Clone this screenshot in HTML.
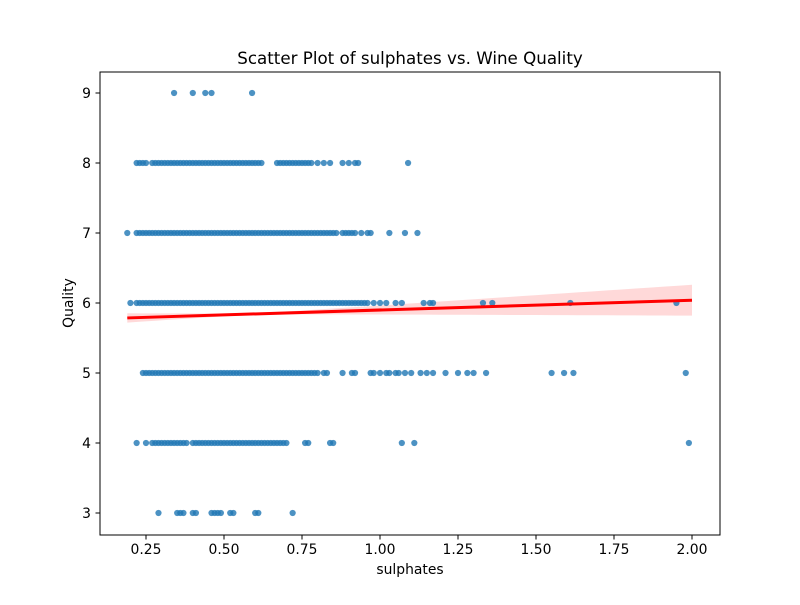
<!DOCTYPE html>
<html><head><meta charset="utf-8"><style>
body{margin:0;background:#fff}
svg text{font-family:"DejaVu Sans","Liberation Sans",sans-serif;fill:#000}
</style></head><body>
<svg id="chart" width="800" height="600" xmlns="http://www.w3.org/2000/svg">
<rect width="800" height="600" fill="#fff"/>
<text x="410" y="64" font-size="16.7" text-anchor="middle">Scatter Plot of sulphates vs. Wine Quality</text>
<g id="band"></g><g id="pts"></g><g id="fit"></g>
<rect x="100" y="72" width="620" height="463" fill="none" stroke="#000" stroke-width="1"/>
<g id="xt"></g><g id="yt"></g>
<text x="410" y="574" font-size="13.9" text-anchor="middle">sulphates</text>
<text x="73" y="303" font-size="13.9" text-anchor="middle" transform="rotate(-90 73 303)">Quality</text>
</svg>
<script>
const xTicks=[0.25,0.5,0.75,1.0,1.25,1.5,1.75,2.0];
const xTickLabels=["0.25","0.50","0.75","1.00","1.25","1.50","1.75","2.00"];
const yTicks=[3,4,5,6,7,8,9];
const q9=[0.34,0.40,0.44,0.46,0.59];
const q8=[0.22,0.23,0.24,0.25,0.27,0.28,0.29,0.30,0.31,0.32,0.33,0.34,0.35,0.36,0.37,0.38,0.39,0.40,0.41,0.42,0.43,0.44,0.45,0.46,0.47,0.48,0.49,0.50,0.51,0.52,0.53,0.54,0.55,0.56,0.57,0.58,0.59,0.60,0.61,0.62,0.67,0.68,0.69,0.70,0.71,0.72,0.73,0.74,0.75,0.76,0.77,0.78,0.80,0.82,0.84,0.88,0.90,0.92,0.93,1.09];
const q7=[0.19,0.22,0.23,0.24,0.25,0.26,0.27,0.28,0.29,0.30,0.31,0.32,0.33,0.34,0.35,0.36,0.37,0.38,0.39,0.40,0.41,0.42,0.43,0.44,0.45,0.46,0.47,0.48,0.49,0.50,0.51,0.52,0.53,0.54,0.55,0.56,0.57,0.58,0.59,0.60,0.61,0.62,0.63,0.64,0.65,0.66,0.67,0.68,0.69,0.70,0.71,0.72,0.73,0.74,0.75,0.76,0.77,0.78,0.79,0.80,0.81,0.82,0.83,0.84,0.85,0.86,0.88,0.89,0.90,0.91,0.92,0.94,0.96,0.97,1.03,1.08,1.12];
const q6=[0.20,0.22,0.23,0.24,0.25,0.26,0.27,0.28,0.29,0.30,0.31,0.32,0.33,0.34,0.35,0.36,0.37,0.38,0.39,0.40,0.41,0.42,0.43,0.44,0.45,0.46,0.47,0.48,0.49,0.50,0.51,0.52,0.53,0.54,0.55,0.56,0.57,0.58,0.59,0.60,0.61,0.62,0.63,0.64,0.65,0.66,0.67,0.68,0.69,0.70,0.71,0.72,0.73,0.74,0.75,0.76,0.77,0.78,0.79,0.80,0.81,0.82,0.83,0.84,0.85,0.86,0.87,0.88,0.89,0.90,0.91,0.92,0.93,0.94,0.95,0.96,0.98,1.00,1.02,1.05,1.07,1.14,1.16,1.17,1.33,1.36,1.61,1.95];
const q5=[0.24,0.25,0.26,0.27,0.28,0.29,0.30,0.31,0.32,0.33,0.34,0.35,0.36,0.37,0.38,0.39,0.40,0.41,0.42,0.43,0.44,0.45,0.46,0.47,0.48,0.49,0.50,0.51,0.52,0.53,0.54,0.55,0.56,0.57,0.58,0.59,0.60,0.61,0.62,0.63,0.64,0.65,0.66,0.67,0.68,0.69,0.70,0.71,0.72,0.73,0.74,0.75,0.76,0.77,0.78,0.79,0.80,0.82,0.83,0.88,0.91,0.92,0.97,0.98,1.00,1.02,1.03,1.05,1.06,1.08,1.10,1.13,1.15,1.17,1.21,1.25,1.28,1.30,1.34,1.55,1.59,1.62,1.98];
const q4=[0.22,0.25,0.27,0.28,0.29,0.30,0.31,0.32,0.33,0.34,0.35,0.36,0.37,0.38,0.40,0.41,0.42,0.43,0.44,0.45,0.46,0.47,0.48,0.49,0.50,0.51,0.52,0.53,0.54,0.55,0.56,0.57,0.58,0.59,0.60,0.61,0.62,0.63,0.64,0.65,0.66,0.67,0.68,0.69,0.70,0.76,0.77,0.84,0.85,1.07,1.11,1.99];
const q3=[0.29,0.35,0.36,0.37,0.40,0.41,0.46,0.47,0.48,0.49,0.52,0.53,0.60,0.61,0.72];
const qualities=[9,8,7,6,5,4,3];
const series=[q9,q8,q7,q6,q5,q4,q3];
const fitIntercept=5.76, fitSlope=0.14, fitRange=[0.19,2.0];
const NS="http://www.w3.org/2000/svg";
const X=v=>146+(v-0.25)*312;
const Y=q=>93+(9-q)*70;
function mk(tag,attrs,parent){const e=document.createElementNS(NS,tag);for(const k in attrs)e.setAttribute(k,attrs[k]);parent.appendChild(e);return e;}
const xt=document.getElementById('xt'),yt=document.getElementById('yt');
xTicks.forEach((t,i)=>{
  const l=mk('line',{x1:X(t),x2:X(t),y1:535,y2:539.5,stroke:'#000'},xt);
  
  
  const tx=mk('text',{x:X(t),y:554,'font-size':13.9,'text-anchor':'middle'},xt);
  tx.textContent=xTickLabels[i];
  
  
});
yTicks.forEach(t=>{
  const l=mk('line',{x1:95.5,x2:100,y1:Y(t),y2:Y(t),stroke:'#000'},yt);
  
  
  const tx=mk('text',{x:91,y:Y(t)+5,'font-size':13.9,'text-anchor':'end'},yt);
  tx.textContent=String(t);
  
  
});
const pts=document.getElementById('pts');
series.forEach((arr,si)=>{
  arr.forEach(v=>{
    const c=mk('circle',{cx:X(v),cy:Y(qualities[si]),r:3.1,fill:'#1f77b4','fill-opacity':0.8},pts);
    
    
  });
});
const f=v=>fitIntercept+fitSlope*v;
const hw=v=>Math.sqrt(0.015*0.015+Math.pow(0.157*(v-0.6),2));
let up=[],dn=[];
for(let i=0;i<=40;i++){const v=fitRange[0]+(fitRange[1]-fitRange[0])*i/40;up.push(X(v)+','+Y(f(v)+hw(v)));dn.unshift(X(v)+','+Y(f(v)-hw(v)));}
const band=mk('polygon',{points:up.concat(dn).join(' '),fill:'#ff0000','fill-opacity':0.15},document.getElementById('band'));


const ln=mk('line',{x1:X(fitRange[0]),y1:Y(f(fitRange[0])),x2:X(fitRange[1]),y2:Y(f(fitRange[1])),stroke:'#ff0000','stroke-width':3},document.getElementById('fit'));


</script>
</body></html>
